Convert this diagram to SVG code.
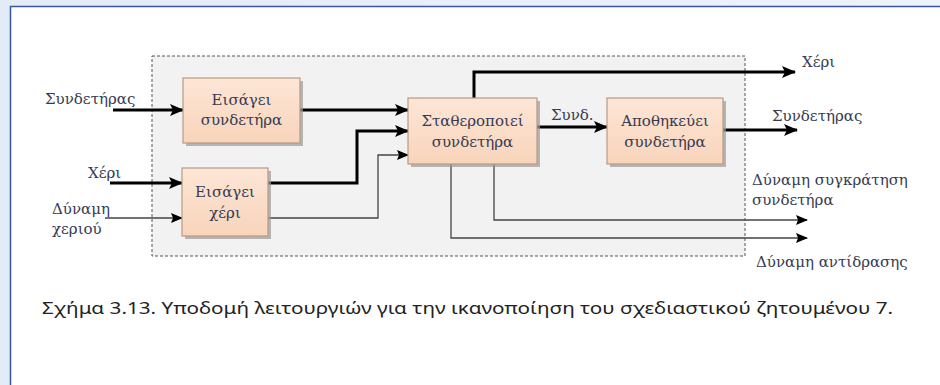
<svg xmlns="http://www.w3.org/2000/svg" width="940" height="385" viewBox="0 0 940 385">
<defs>
<linearGradient id="bg" x1="0" y1="0" x2="1" y2="0">
<stop offset="0" stop-color="#e3ebf6"/><stop offset="1" stop-color="#eef3fa"/>
</linearGradient>
<linearGradient id="boxg" x1="0" y1="0" x2="0" y2="1">
<stop offset="0" stop-color="#fde6d6"/><stop offset="1" stop-color="#f8d4bb"/>
</linearGradient>
<marker id="ahT" viewBox="0 0 14 12" refX="13" refY="6" markerWidth="14" markerHeight="12" markerUnits="userSpaceOnUse" orient="auto">
<path d="M0,0 L14,6 L0,12 L3,6 Z" fill="#000"/>
</marker>
<marker id="ahS" viewBox="0 0 12 10" refX="11" refY="5" markerWidth="12" markerHeight="10" markerUnits="userSpaceOnUse" orient="auto">
<path d="M0,0 L12,5 L0,10 L2,5 Z" fill="#000"/>
</marker>
</defs>
<style>
.box{fill:url(#boxg);stroke:#b89a84;stroke-width:1.2}
.shadow{fill:#9a9a9a;opacity:0.7}
.lbl{font-family:'DejaVu Serif',serif;font-size:15px;fill:#363b52}
.blbl{font-family:'DejaVu Serif',serif;font-size:15px;fill:#363b52;text-anchor:middle}
.thick{fill:none;stroke:#000;stroke-width:3}
.thin{fill:none;stroke:#444;stroke-width:1.3}
</style>
<rect x="0" y="0" width="940" height="385" fill="url(#bg)"/>
<rect x="10.5" y="6.5" width="940" height="390" fill="#fff" stroke="#3c55a0" stroke-width="1.5"/>
<rect x="152" y="56" width="593" height="200" fill="#f2f2f2" stroke="#555" stroke-width="1" stroke-dasharray="3,2"/>

<g id="connectors">
<path class="thick" d="M113,110 L183,110" marker-end="url(#ahT)"/>
<path class="thick" d="M300,110 L408,110" marker-end="url(#ahT)"/>
<path class="thick" d="M110,183 L182,183" marker-end="url(#ahT)"/>
<path class="thin" d="M105,218 L182,218" marker-end="url(#ahS)"/>
<path class="thick" d="M268,183 L357,183 L357,131 L408,131" marker-end="url(#ahT)"/>
<path class="thin" d="M268,218 L378,218 L378,155 L408,155" marker-end="url(#ahS)"/>
<path class="thick" d="M474,98 L474,72 L795,72" marker-end="url(#ahT)"/>
<path class="thick" d="M537,127 L607,127" marker-end="url(#ahT)"/>
<path class="thick" d="M723,130 L797,130" marker-end="url(#ahT)"/>
<path class="thin" d="M494,164 L494,220 L807,220" marker-end="url(#ahS)"/>
<path class="thin" d="M451,164 L451,238 L807,238" marker-end="url(#ahS)"/>
</g>

<g id="n1">
<rect class="shadow" x="186" y="81" width="117" height="65"/>
<rect class="box" x="183" y="78" width="117" height="65"/>
<text class="blbl" x="241.5" y="105">Εισάγει</text>
<text class="blbl" x="241.5" y="125">συνδετήρα</text>
</g>
<g id="n2">
<rect class="shadow" x="185" y="171" width="86" height="68"/>
<rect class="box" x="182" y="168" width="86" height="68"/>
<text class="blbl" x="225" y="197">Εισάγει</text>
<text class="blbl" x="225" y="218">χέρι</text>
</g>
<g id="n3">
<rect class="shadow" x="411" y="101" width="129" height="66"/>
<rect class="box" x="408" y="98" width="129" height="66"/>
<text class="blbl" x="472.5" y="126">Σταθεροποιεί</text>
<text class="blbl" x="472.5" y="147">συνδετήρα</text>
</g>
<g id="n4">
<rect class="shadow" x="610" y="101" width="116" height="66"/>
<rect class="box" x="607" y="98" width="116" height="66"/>
<text class="blbl" x="665" y="126">Αποθηκεύει</text>
<text class="blbl" x="665" y="147">συνδετήρα</text>
</g>

<g id="labels">
<text class="lbl" x="45" y="104">Συνδετήρας</text>
<text class="lbl" x="88" y="178">Χέρι</text>
<text class="lbl" x="52" y="214">Δύναμη</text>
<text class="lbl" x="52" y="234">χεριού</text>
<text class="lbl" x="802" y="67">Χέρι</text>
<text class="lbl" x="551" y="120">Συνδ.</text>
<text class="lbl" x="772" y="121">Συνδετήρας</text>
<text class="lbl" x="752" y="185">Δύναμη συγκράτηση</text>
<text class="lbl" x="752" y="205">συνδετήρα</text>
<text class="lbl" x="756" y="267">Δύναμη αντίδρασης</text>
</g>
<text x="42" y="314" font-family="'Noto Sans',sans-serif" font-size="16" fill="#222" textLength="851" lengthAdjust="spacingAndGlyphs">Σχήμα 3.13. Υποδομή λειτουργιών για την ικανοποίηση του σχεδιαστικού ζητουμένου 7.</text>
</svg>
